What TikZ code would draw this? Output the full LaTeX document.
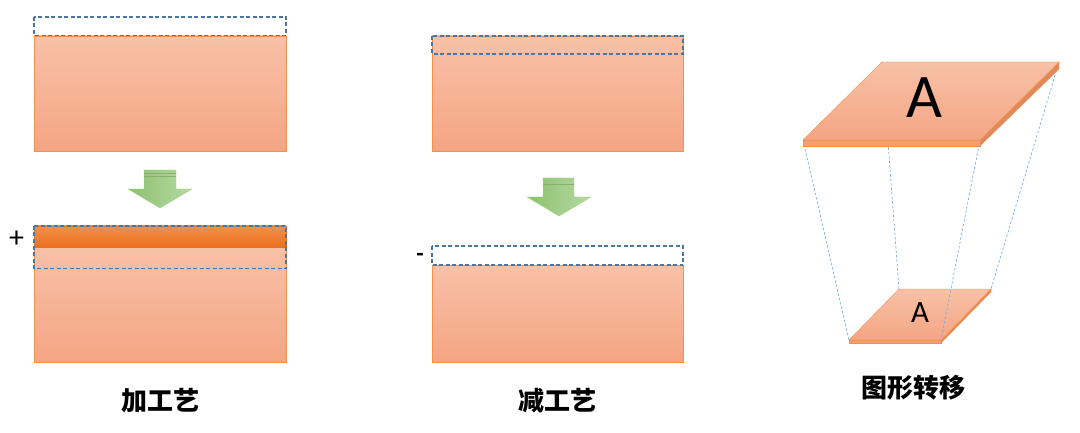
\documentclass[tikz,border=0pt]{standalone}
\usepackage{fontspec}
\setmainfont{Carlito}
\newfontfamily\cjk{Noto Sans CJK SC}
\usepackage{tikz}

\definecolor{blocktop}{HTML}{F8C1A7}
\definecolor{blockbot}{HTML}{F4A583}
\definecolor{blockline}{HTML}{F4914F}
\definecolor{barone}{HTML}{F5904A}
\definecolor{bartwo}{HTML}{EB7020}
\definecolor{maskblue}{HTML}{4A76A0}
\definecolor{arrowdark}{HTML}{8CC170}
\definecolor{arrowlight}{HTML}{B6D9A2}
\definecolor{arrowline}{HTML}{A9D18E}
\definecolor{projblue}{HTML}{7FAEDF}
\definecolor{slabside}{HTML}{E08A5C}
\definecolor{slabfront}{HTML}{F4A070}

\tikzset{
  block/.style={draw=blockline, top color=blocktop, bottom color=blockbot},
  mask/.style={draw=maskblue, line width=1.2pt, dash pattern=on 4pt off 2.5pt},
  greenarrow/.style={draw=arrowline, left color=arrowdark, right color=arrowlight},
  proj/.style={draw=projblue, line width=.7pt, dash pattern=on 2.5pt off 2pt},
  caption/.style={font=\cjk\bfseries\fontsize{26}{30}\selectfont, inner sep=0pt},
  sign/.style={font=\fontsize{30}{32}\selectfont, inner sep=0pt}
}

\begin{document}
\begin{tikzpicture}[x=1pt, y=-1pt]

		\useasboundingbox (0,0) rectangle (1080,433);

		% additive process
		\draw [block] (34,36) rectangle (286,151);
		\draw [mask] (34,17) rectangle (286,35.5);

		\draw [greenarrow] (144,170) -- (176,170) -- (176,189) -- (192,189)
			-- (160,208) -- (128,189) -- (144,189) -- cycle;
		\draw [arrowdark!80!black!60!arrowline] (144,173) -- (176,173);
		\draw [arrowdark!80!black!60!arrowline] (144,176) -- (176,176);

		\draw [block] (34,247) rectangle (286,362);
		\draw [draw=bartwo, top color=barone, bottom color=bartwo] (34,226) rectangle (286,247);
		\draw [mask] (34,226) rectangle (286,268.5);

		\node [sign] (plus) at (16.5,239) {+};
		\node [caption] (addlabel) at (160,401) {加工艺};

		% subtractive process
		\draw [block] (432,36) rectangle (683,151);
		\draw [mask] (432,36) rectangle (683,54);

		\draw [greenarrow] (543,178) -- (574,178) -- (574,197) -- (591,197)
			-- (559,216) -- (527,197) -- (543,197) -- cycle;
		\draw [arrowdark!80!black!60!arrowline] (543,184) -- (574,184);

		\draw [block] (432,265) rectangle (683,362);
		\draw [mask] (432,246) rectangle (683,265);

		\node [sign, font=\bfseries\fontsize{24}{26}\selectfont] (minus) at (420,257) {-};
		\node [caption] (sublabel) at (557,401) {减工艺};

		% pattern transfer
		\coordinate (tbl) at (882,62);
		\coordinate (tbr) at (1059,62);
		\coordinate (tfr) at (980,140);
		\coordinate (tfl) at (803,140);
		\coordinate (bbl) at (899,289);
		\coordinate (bbr) at (991,289);
		\coordinate (bfr) at (941,340);
		\coordinate (bfl) at (849,340);

		\draw [blockline, fill=slabfront] (bfl) rectangle ([yshift=-3]bfr);
		\draw [blockline, fill=slabside] (bfr) -- (bbr) -- ([yshift=-3]bbr) -- ([yshift=-3]bfr) -- cycle;
		\draw [block] (bbl) -- (bbr) -- (bfr) -- (bfl) -- cycle;
		\node [font=\fontsize{31}{32}\selectfont, inner sep=0pt] (smallA) at (920,313) {A};

		\draw [proj] (tfl) -- (bfl);
		\draw [proj] (tbl) -- (bbl);
		\draw [proj] (tfr) -- (bfr);
		\draw [proj] (tbr) -- (bbr);

		\draw [blockline, fill=slabfront] (tfl) rectangle ([yshift=-6]tfr);
		\draw [blockline, fill=slabside] (tfr) -- (tbr) -- ([yshift=-7]tbr) -- ([yshift=-6]tfr) -- cycle;
		\draw [block] (tbl) -- (tbr) -- (tfr) -- (tfl) -- cycle;
		\node [font=\fontsize{62}{64}\selectfont, inner sep=0pt] (bigA) at (924,98) {A};

		\node [caption] (translabel) at (913,388) {图形转移};
	\end{tikzpicture}
\end{document}
